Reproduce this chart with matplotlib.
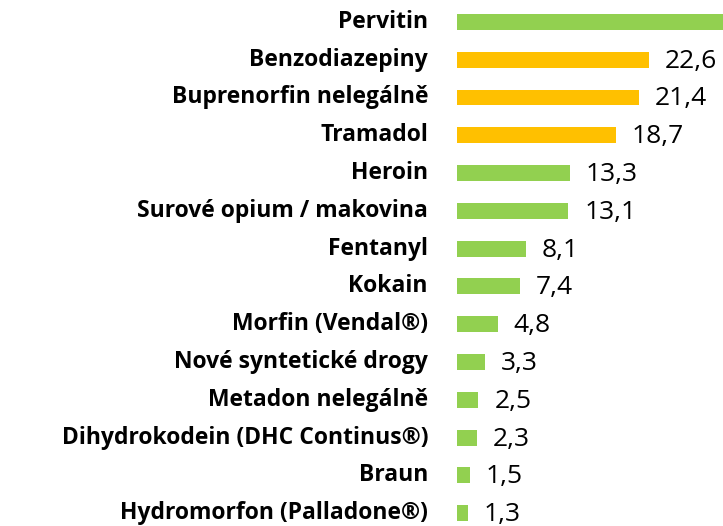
import matplotlib.pyplot as plt
from matplotlib.transforms import offset_copy

categories = ["Pervitin", "Benzodiazepiny", "Buprenorfin nelegálně", "Tramadol", "Heroin",
              "Surové opium / makovina", "Fentanyl", "Kokain", "Morfin (Vendal®)",
              "Nové syntetické drogy", "Metadon nelegálně", "Dihydrokodein (DHC Continus®)",
              "Braun", "Hydromorfon (Palladone®)"]
values = [45.0, 22.6, 21.4, 18.7, 13.3, 13.1, 8.1, 7.4, 4.8, 3.3, 2.5, 2.3, 1.5, 1.3]
highlight = ["Benzodiazepiny", "Buprenorfin nelegálně", "Tramadol"]

green = "#92D050"
orange = "#FFC000"
colors = [orange if c in highlight else green for c in categories]

plt.rcParams['font.family'] = ['Open Sans', 'DejaVu Sans']

fig = plt.figure(figsize=(7.23, 5.26), dpi=100)
ax = fig.add_axes([457 / 723, 0, 1 - 457 / 723, 1])

pos = list(range(len(categories)))
ax.barh(pos, values, height=0.42, color=colors)
ax.set_xlim(0, 266 / 8.5)
ax.set_ylim(13.34, -0.58)

# value labels sit a bit below the bar centre
val_tr = offset_copy(ax.transData, fig=fig, x=16, y=-8, units="dots")
for i, v in enumerate(values):
    if v < 31:
        ax.text(v, i, f"{v:.1f}".replace(".", ","), transform=val_tr,
                va="baseline", ha="left", fontsize=19, color="black")

# category labels
cat_tr = offset_copy(ax.get_yaxis_transform(), fig=fig, x=-29, y=-6, units="dots")
for i, c in enumerate(categories):
    ax.text(0, i, c, transform=cat_tr, va="baseline", ha="right",
            fontsize=16.5, fontweight="bold", color="black")

ax.set_yticks([])
ax.set_xticks([])
for s in ax.spines.values():
    s.set_visible(False)

fig.savefig("out.png", dpi=100)
